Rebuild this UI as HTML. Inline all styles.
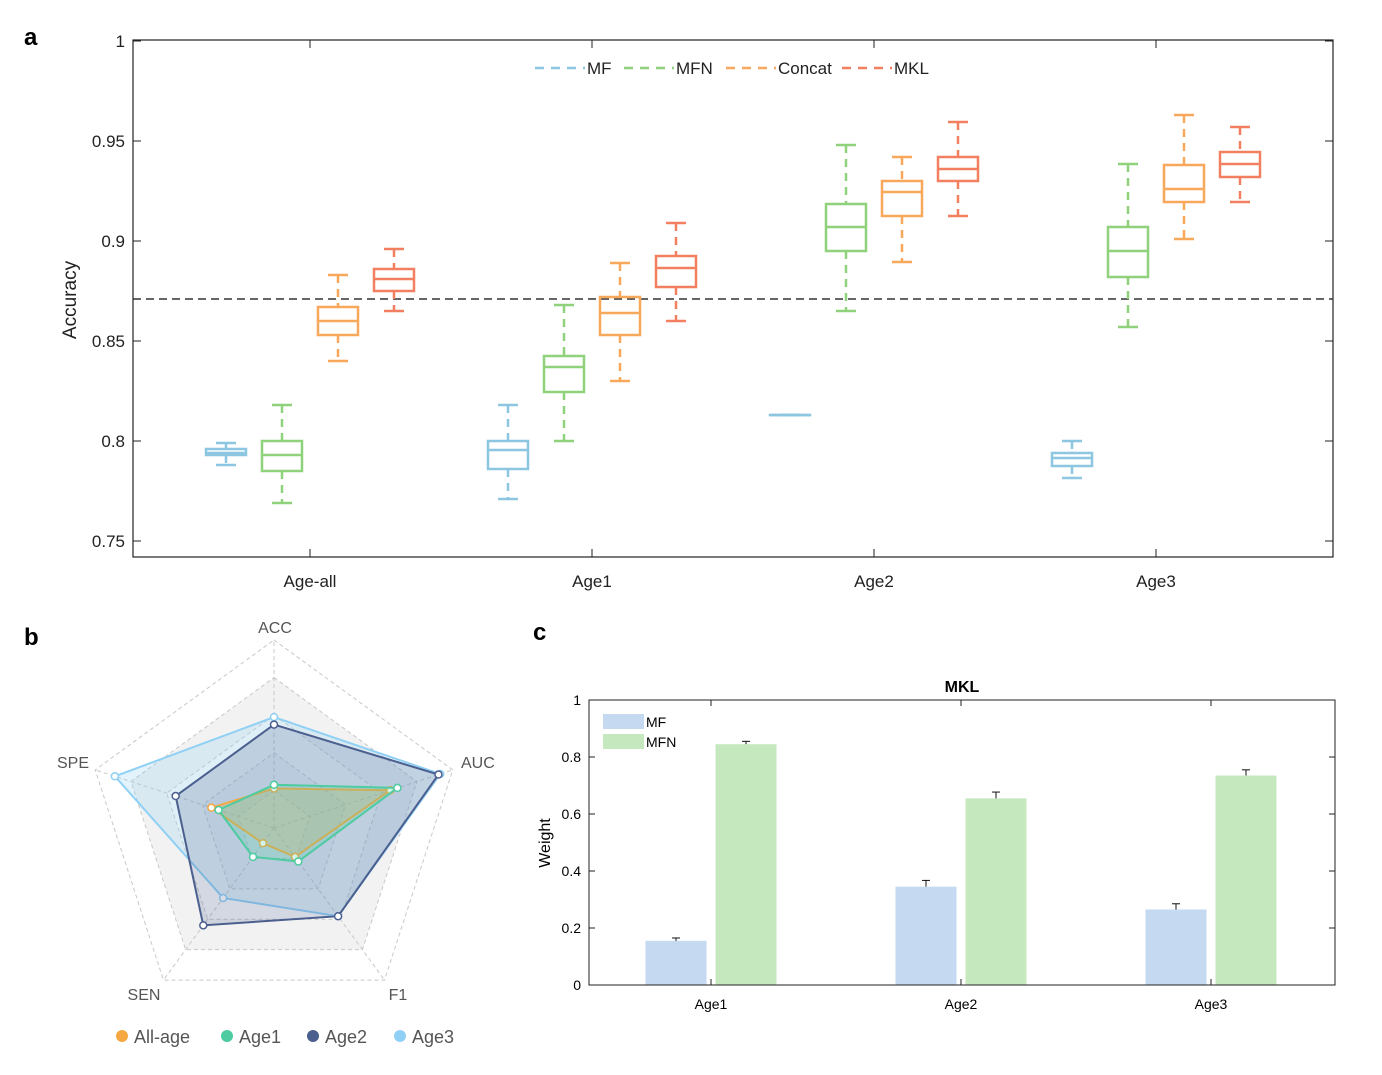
<!DOCTYPE html>
<html><head><meta charset="utf-8"><style>
body{margin:0;background:#fff;font-family:"Liberation Sans",Arial,sans-serif;}
svg{display:block}
</style></head><body>
<svg id="s" width="1382" height="1075" xmlns="http://www.w3.org/2000/svg"></svg>
<script>
// ===== Panel a data =====
const groupsA = ["Age-all","Age1","Age2","Age3"];
const seriesA = ["MF","MFN","Concat","MKL"];
const colorsA = ["#8cc6e0","#8fd27b","#f8a85a","#f28060"];
// [lowWhisker, q1, median, q3, highWhisker] per series per group
const mfBoxes     = [[0.788,0.793,0.794,0.796,0.799],[0.771,0.786,0.7955,0.800,0.818],[0.813,0.813,0.813,0.813,0.813],[0.7815,0.7875,0.7915,0.794,0.800]];
const mfnBoxes    = [[0.769,0.785,0.793,0.800,0.818],[0.800,0.8245,0.837,0.8425,0.868],[0.865,0.895,0.907,0.9185,0.948],[0.857,0.882,0.895,0.907,0.9385]];
const concatBoxes = [[0.840,0.853,0.860,0.867,0.883],[0.830,0.853,0.864,0.872,0.889],[0.8895,0.9125,0.9245,0.930,0.942],[0.901,0.9195,0.926,0.938,0.963]];
const mklBoxes    = [[0.865,0.875,0.881,0.886,0.896],[0.860,0.877,0.8865,0.8925,0.909],[0.9125,0.930,0.936,0.942,0.9595],[0.9195,0.932,0.9385,0.9445,0.957]];
const refLine = 0.871;
const yTicksA = [0.75,0.8,0.85,0.9,0.95,1];
const yTickLabelsA = ["0.75","0.8","0.85","0.9","0.95","1"];
// ===== Panel b data =====
const radarAxes = ["ACC","AUC","F1","SEN","SPE"];
const radarNames = ["All-age","Age1","Age2","Age3"];
const radarColors = ["#f5a742","#4ecba0","#4b5f8e","#90d0f5"];
const allAgeVals = [0.21,0.65,0.19,0.10,0.35];
const age1Vals   = [0.23,0.69,0.22,0.19,0.31];
const age2Vals   = [0.55,0.92,0.58,0.64,0.55];
const age3Vals   = [0.59,0.93,0.58,0.46,0.89];
// ===== Panel c data =====
const groupsC = ["Age1","Age2","Age3"];
const mfWeights  = [0.155,0.345,0.265];
const mfErr      = [0.010,0.022,0.020];
const mfnWeights = [0.845,0.655,0.735];
const mfnErr     = [0.010,0.022,0.020];
const yTicksC = [0,0.2,0.4,0.6,0.8,1];
const yTickLabelsC = ["0","0.2","0.4","0.6","0.8","1"];

const S=document.getElementById('s');const NS="http://www.w3.org/2000/svg";
function el(t,a,p){const e=document.createElementNS(NS,t);for(const k in a)e.setAttribute(k,a[k]);(p||S).appendChild(e);return e;}
function txt(x,y,s,a,p){const e=el('text',Object.assign({x:x,y:y},a),p);e.textContent=s;return e;}

// ---------- Panel a ----------
const aL=133,aR=1333,aT=40,aB=557;
const yA=v=>41+(1-v)*2000;
const gxA=i=>310+i*282;
const offA=[-84,-28,28,84];
const gA=el('g',{});
txt(24,45,"a",{'font-size':24,'font-weight':'bold',},gA);
el('rect',{x:aL,y:aT,width:aR-aL,height:aB-aT,fill:'none',stroke:'#222','stroke-width':1.2,},gA);
yTicksA.forEach((v,i)=>{const y=yA(v);
 el('line',{x1:aL,x2:aL+8,y1:y,y2:y,stroke:'#222'},gA);el('line',{x1:aR,x2:aR-8,y1:y,y2:y,stroke:'#222'},gA);
 const t=txt(aL-8,y+6,yTickLabelsA[i],{'font-size':17,'text-anchor':'end',fill:'#222'},gA);
 });
groupsA.forEach((g,i)=>{const x=gxA(i);
 el('line',{x1:x,x2:x,y1:aB,y2:aB-8,stroke:'#222'},gA);el('line',{x1:x,x2:x,y1:aT,y2:aT+8,stroke:'#222'},gA);
 const t=txt(x,587,g,{'font-size':17,'text-anchor':'middle',fill:'#222'},gA);
 });
txt(0,0,"Accuracy",{'font-size':19,'text-anchor':'middle',fill:'#222',transform:'translate(76,300) rotate(-90)',},gA);
el('line',{x1:aL,x2:aR,y1:yA(refLine),y2:yA(refLine),stroke:'#333','stroke-width':1.5,'stroke-dasharray':'8,5',},gA);
const allBoxes=[mfBoxes,mfnBoxes,concatBoxes,mklBoxes];
allBoxes.forEach((boxes,si)=>{boxes.forEach((b,gi)=>{
 const cx=gxA(gi)+offA[si],c=colorsA[si],w=40;
 const bg=el('g',{},gA);
 el('line',{x1:cx,x2:cx,y1:yA(b[4]),y2:yA(b[3]),stroke:c,'stroke-width':2.5,'stroke-dasharray':'8,6'},bg);
 el('line',{x1:cx,x2:cx,y1:yA(b[1]),y2:yA(b[0]),stroke:c,'stroke-width':2.5,'stroke-dasharray':'8,6'},bg);
 el('line',{x1:cx-10,x2:cx+10,y1:yA(b[4]),y2:yA(b[4]),stroke:c,'stroke-width':2.5},bg);
 el('line',{x1:cx-10,x2:cx+10,y1:yA(b[0]),y2:yA(b[0]),stroke:c,'stroke-width':2.5},bg);
 el('rect',{x:cx-w/2,y:yA(b[3]),width:w,height:Math.max(0.1,yA(b[1])-yA(b[3])),fill:'none',stroke:c,'stroke-width':2.5},bg);
 el('line',{x1:cx-w/2,x2:cx+w/2,y1:yA(b[2]),y2:yA(b[2]),stroke:c,'stroke-width':2.5},bg);
});});
const legX=[535,624,726,842];
seriesA.forEach((s,i)=>{const lg=el('g',{},gA);
 el('line',{x1:legX[i],x2:legX[i]+50,y1:68,y2:68,stroke:colorsA[i],'stroke-width':2.5,'stroke-dasharray':'9,7'},lg);
 txt(legX[i]+52,74,s,{'font-size':17,fill:'#222'},lg);});

// ---------- Panel b ----------
const gB=el('g',{});
txt(24,645,"b",{'font-size':24,'font-weight':'bold',},gB);
const rcx=274,rcy=828,R=188;
const pt=(k,r)=>{const a=-Math.PI/2+k*2*Math.PI/5;return [rcx+R*r*Math.cos(a),rcy+R*r*Math.sin(a)];};
const poly=r=>[0,1,2,3,4].map(k=>pt(k,r).join(',')).join(' ');
const bandFill=['#f3f3f3','#ffffff','#f3f3f3','#ffffff','#f3f3f3'];
for(let l=5;l>=1;l--){el('polygon',{points:poly(l/5),fill:l===5?'#fff':(l%2===0?'#f2f2f2':'#fafafa'),stroke:'#c8c8c8','stroke-dasharray':'4,3','stroke-width':1},gB);}
for(let k=0;k<5;k++){const p=pt(k,1);el('line',{x1:rcx,y1:rcy,x2:p[0],y2:p[1],stroke:'#c8c8c8','stroke-dasharray':'4,3'},gB);}
const labPos=[[275,633,'middle'],[461,768,'start'],[398,1000,'middle'],[144,1000,'middle'],[89,768,'end']];
radarAxes.forEach((a,k)=>{const t=txt(labPos[k][0],labPos[k][1],a,{'font-size':16,fill:'#555','text-anchor':labPos[k][2]},gB);
 });
const radarData=[allAgeVals,age1Vals,age2Vals,age3Vals];
const drawOrder=[3,2,0,1];
drawOrder.forEach(si=>{const vals=radarData[si],c=radarColors[si];
 const sg=el('g',{},gB);
 const pts=vals.map((v,k)=>pt(k,v));
 el('polygon',{points:pts.map(p=>p.join(',')).join(' '),fill:c,'fill-opacity':si===2?0.22:0.25,stroke:c,'stroke-width':2},sg);
 pts.forEach(p=>el('circle',{cx:p[0],cy:p[1],r:3.5,fill:'#fff',stroke:c,'stroke-width':1.5},sg));});
const legBX=[122,227,313,400];
radarNames.forEach((n,i)=>{const lg=el('g',{},gB);
 el('circle',{cx:legBX[i],cy:1036,r:6,fill:radarColors[i]},lg);
 txt(legBX[i]+12,1043,n,{'font-size':18,fill:'#555'},lg);});

// ---------- Panel c ----------
const gC=el('g',{});
txt(533,640,"c",{'font-size':24,'font-weight':'bold',},gC);
const cL=589,cR=1335,cT=700,cB=985;
const yC=v=>cB-v*(cB-cT);const gxC=i=>711+i*250;
txt(962,692,"MKL",{'font-size':16,'font-weight':'bold','text-anchor':'middle',},gC);
const bars=[[mfWeights,mfErr,'#c5d9f0',-35,'mf'],[mfnWeights,mfnErr,'#c6e8bf',35,'mfn']];
bars.forEach(([vals,err,c,off,nm])=>{vals.forEach((v,i)=>{const cx=gxC(i)+off;
 const r=el('rect',{x:cx-30.5,y:yC(v),width:61,height:cB-yC(v),fill:c},gC);
 
 el('line',{x1:cx,x2:cx,y1:yC(v),y2:yC(v+err[i]),stroke:'#111'},gC);
 el('line',{x1:cx-4,x2:cx+4,y1:yC(v+err[i]),y2:yC(v+err[i]),stroke:'#111'},gC);});});
el('rect',{x:cL,y:cT,width:cR-cL,height:cB-cT,fill:'none',stroke:'#222','stroke-width':1,},gC);
yTicksC.forEach((v,i)=>{const y=yC(v);
 el('line',{x1:cL,x2:cL+6,y1:y,y2:y,stroke:'#222'},gC);el('line',{x1:cR,x2:cR-6,y1:y,y2:y,stroke:'#222'},gC);
 const t=txt(cL-8,y+5,yTickLabelsC[i],{'font-size':14,'text-anchor':'end'},gC);
 });
groupsC.forEach((g,i)=>{const x=gxC(i);
 el('line',{x1:x,x2:x,y1:cB,y2:cB-6,stroke:'#222'},gC);el('line',{x1:x,x2:x,y1:cT,y2:cT+6,stroke:'#222'},gC);
 const t=txt(x,1009,g,{'font-size':14,'text-anchor':'middle'},gC);
 });
txt(0,0,"Weight",{'font-size':16,'text-anchor':'middle',transform:'translate(550,843) rotate(-90)',},gC);
[['MF','#c5d9f0',714],['MFN','#c6e8bf',734]].forEach(([n,c,y])=>{const lg=el('g',{},gC);
 el('rect',{x:603,y:y,width:41,height:15,fill:c},lg);txt(646,y+13,n,{'font-size':14},lg);});
</script>
</body></html>
